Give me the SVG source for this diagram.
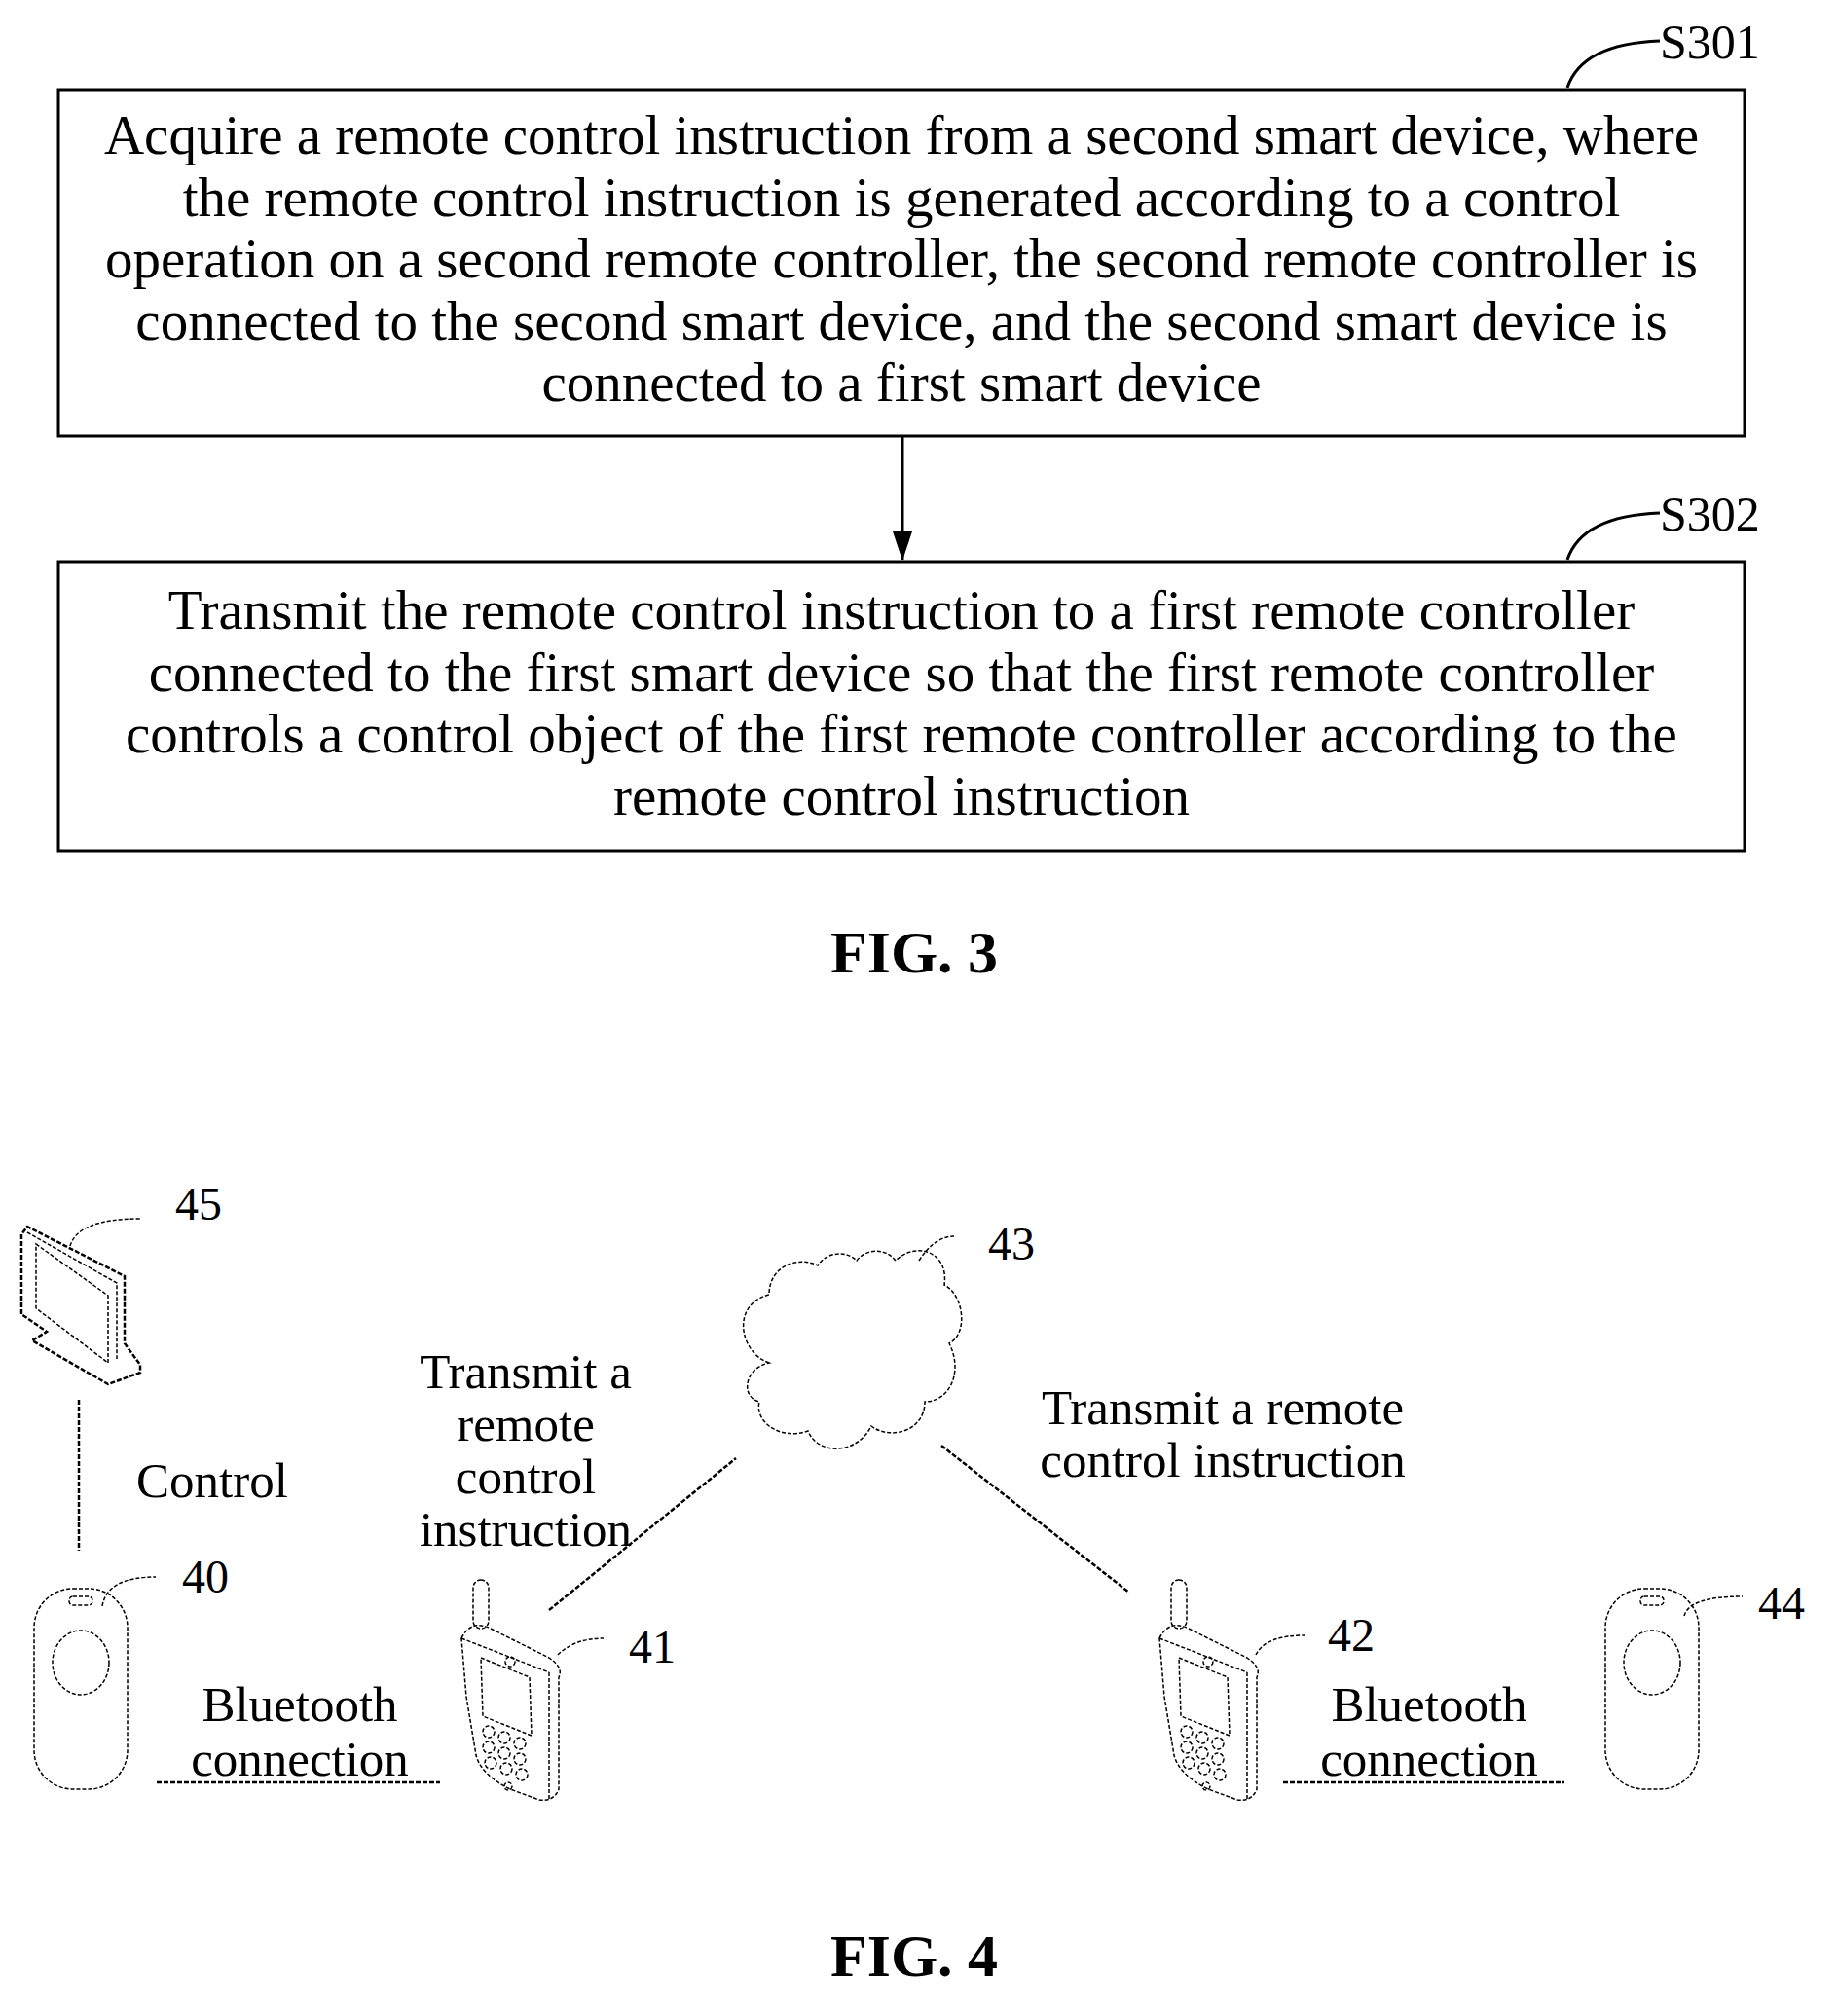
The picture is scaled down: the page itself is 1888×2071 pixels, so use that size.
<svg xmlns="http://www.w3.org/2000/svg" width="1888" height="2071" viewBox="0 0 1888 2071">
<style>
text{font-family:"Liberation Serif","Times New Roman",serif;fill:#000}
.t{font-size:57px;text-anchor:middle}
.t4{font-size:51px;text-anchor:middle}
.n{font-size:48px}
.box{fill:#fff;stroke:#000;stroke-width:3}
.d{fill:none;stroke:#000;stroke-width:1.5;stroke-dasharray:4 2}
.dl{fill:none;stroke:#000;stroke-width:2.5;stroke-dasharray:5 2}
.fig{font-size:62px;font-weight:bold;text-anchor:middle}
</style>
<defs>
<marker id="ah" markerWidth="30" markerHeight="20" refX="29" refY="10" orient="auto" markerUnits="userSpaceOnUse"><path d="M0,0 L30,10 L0,20 Z" fill="#000"/></marker>
<g id="phone">
<rect x="12" y="0" width="16" height="50" rx="8" class="d"/>
<path d="M0,60 Q10,40 30,50 L90,80 Q105,90 100,100 L100,215 Q95,228 80,226 L50,215 Q20,200 15,180 L5,120 Z" class="d"/>
<path d="M90,95 L90,226 M0,60 L90,95" class="d"/>
<path d="M20,80 L70,100 L72,160 L22,140 Z" class="d"/>
<circle cx="50" cy="84" r="5" class="d"/>
<circle cx="28" cy="156" r="6" class="d"/><circle cx="44" cy="162" r="6" class="d"/><circle cx="60" cy="168" r="6" class="d"/>
<circle cx="28" cy="172" r="6" class="d"/><circle cx="44" cy="178" r="6" class="d"/><circle cx="60" cy="184" r="6" class="d"/>
<circle cx="30" cy="188" r="6" class="d"/><circle cx="46" cy="194" r="6" class="d"/><circle cx="62" cy="200" r="6" class="d"/>
<circle cx="48" cy="212" r="4" class="d"/>
</g>
<g id="remote">
<rect x="0" y="0" width="96" height="206" rx="40" class="d"/>
<rect x="36" y="8" width="24" height="9" rx="4" class="d"/>
<ellipse cx="48" cy="76" rx="29" ry="33" class="d"/>
</g>
</defs>

<g id="s301">
<rect class="box" x="60" y="92" width="1732" height="356"/>
<text class="t"><tspan x="926" y="158">Acquire a remote control instruction from a second smart device, where</tspan><tspan x="926" y="222">the remote control instruction is generated according to a control</tspan><tspan x="926" y="285">operation on a second remote controller, the second remote controller is</tspan><tspan x="926" y="349">connected to the second smart device, and the second smart device is</tspan><tspan x="926" y="412">connected to a first smart device</tspan></text>
<path d="M1610,90 Q1625,45 1705,42" fill="none" stroke="#000" stroke-width="3"/>
<text x="1705" y="60" font-size="50">S301</text>
</g>
<g id="s302">
<rect class="box" x="60" y="577" width="1732" height="297"/>
<text class="t"><tspan x="926" y="646">Transmit the remote control instruction to a first remote controller</tspan><tspan x="926" y="710">connected to the first smart device so that the first remote controller</tspan><tspan x="926" y="773">controls a control object of the first remote controller according to the</tspan><tspan x="926" y="837">remote control instruction</tspan></text>
<path d="M1610,575 Q1625,530 1705,527" fill="none" stroke="#000" stroke-width="3"/>
<text x="1705" y="545" font-size="50">S302</text>
</g>
<g id="connectors">
<line x1="927" y1="448" x2="927" y2="575" stroke="#000" stroke-width="3" marker-end="url(#ah)"/>
<line x1="81" y1="1438" x2="81" y2="1593" class="dl"/>
<line x1="564" y1="1654" x2="756" y2="1498" class="dl"/>
<line x1="967" y1="1485" x2="1160" y2="1636" class="dl"/>
<line x1="161" y1="1831" x2="452" y2="1831" class="dl"/>
<line x1="1318" y1="1831" x2="1607" y2="1831" class="dl"/>
</g>
<text class="fig" x="939" y="999">FIG. 3</text>

<g id="n45">
<path d="M22,1350 L22,1268 L28,1260 L128,1311 L128,1380 L144,1402 L144,1410 L111,1422 L33,1377 L48,1368 Z" class="dl"/>
<path d="M37,1278 L111,1331 L111,1400 L37,1344 Z" class="d" stroke-width="3"/>
<path d="M28,1266 L120,1318 L120,1396" class="d"/>
<path d="M72,1280 Q80,1252 144,1252" class="d"/>
<text x="180" y="1253" class="n">45</text>
</g>
<text x="218" y="1538" class="t4">Control</text>
<g id="n40">
<use href="#remote" x="35" y="1632"/>
<path d="M105,1650 Q110,1620 160,1620" class="d"/>
<text x="187" y="1636" class="n">40</text>
</g>
<g id="n41">
<use href="#phone" x="474" y="1623"/>
<path d="M573,1700 Q590,1683 620,1683" class="d"/>
<text x="646" y="1708" class="n">41</text>
</g>
<text class="t4"><tspan x="540" y="1426">Transmit a</tspan><tspan x="540" y="1480">remote</tspan><tspan x="540" y="1534">control</tspan><tspan x="540" y="1588">instruction</tspan></text>
<text class="t4"><tspan x="308" y="1768">Bluetooth</tspan><tspan x="308" y="1824">connection</tspan></text>
<g id="n43">
<path d="M790,1400 C760,1390 750,1340 790,1330 C790,1300 820,1290 840,1300 C850,1285 870,1285 880,1295 C890,1282 910,1282 920,1295 C940,1275 975,1285 970,1320 C990,1330 995,1370 975,1380 C990,1410 975,1440 950,1440 C950,1470 915,1480 895,1465 C880,1495 840,1495 830,1470 C800,1480 775,1460 780,1440 C760,1435 765,1405 790,1400 Z" class="d"/>
<path d="M944,1295 Q960,1270 980,1270" class="d"/>
<text x="1015" y="1294" class="n">43</text>
</g>
<text class="t4"><tspan x="1256" y="1463">Transmit a remote</tspan><tspan x="1256" y="1517">control instruction</tspan></text>
<g id="n42">
<use href="#phone" x="1191" y="1623"/>
<path d="M1290,1700 Q1300,1680 1340,1680" class="d"/>
<text x="1364" y="1696" class="n">42</text>
</g>
<text class="t4"><tspan x="1468" y="1768">Bluetooth</tspan><tspan x="1468" y="1824">connection</tspan></text>
<g id="n44">
<use href="#remote" x="1649" y="1632"/>
<path d="M1730,1660 Q1735,1640 1790,1640" class="d"/>
<text x="1806" y="1663" class="n">44</text>
</g>
<text class="fig" x="939" y="2030">FIG. 4</text>
</svg>
